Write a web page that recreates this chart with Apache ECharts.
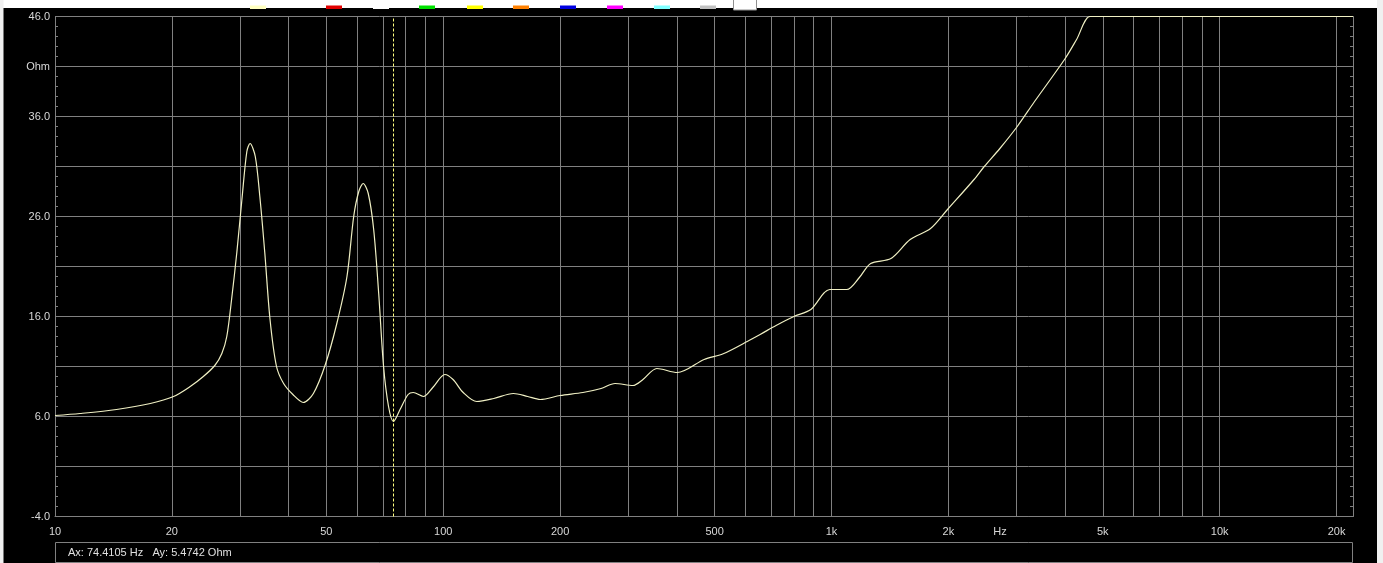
<!DOCTYPE html>
<html>
<head>
<meta charset="utf-8">
<script src="https://cdn.jsdelivr.net/npm/echarts@6/dist/echarts.min.js"></script>
<style>
html,body{margin:0;padding:0;background:#000;}
#chart{width:1383px;height:563px;}
</style>
</head>
<body>
<div id="chart"></div>
<script>
// ---- data ----
const freqHz = [10, 11.6, 14.4, 17.6, 20.2, 22.3, 24.1, 25.8, 26.9, 27.7, 28.5, 29.4, 30.3, 31.2, 31.8, 32.8, 33.7, 34.7, 35.8, 37.2, 38.8, 41, 43.6, 46.3, 49.7, 53.2, 56.5, 58.8, 60.6, 62.2, 64.1, 66.2, 68.2, 70.2, 72.3, 74.4, 77.4, 81.2, 83.7, 88.9, 94, 101, 106, 112.6, 122, 135, 151.6, 165, 177.8, 200, 229, 255, 277, 308, 327, 355, 401, 470, 528, 620, 655, 720, 800, 885, 990, 1095, 1180, 1262, 1423, 1595, 1800, 1990, 2330, 2475, 2715, 3010, 3322, 4000, 4280, 4630, 5000, 10000, 22050];
const impedanceOhm = [6.1, 6.3, 6.7, 7.3, 8.0, 9.0, 10.0, 11.1, 12.3, 14.0, 17.7, 22.4, 27.7, 32.5, 33.3, 32.0, 28.0, 22.4, 15.7, 11.0, 9.3, 8.2, 7.4, 8.3, 11.2, 15.3, 20.0, 26.0, 28.5, 29.3, 28.3, 24.7, 18.3, 11.0, 7.0, 5.5, 6.7, 8.2, 8.4, 8.0, 8.9, 10.2, 9.7, 8.4, 7.5, 7.8, 8.3, 8.0, 7.7, 8.1, 8.4, 8.8, 9.3, 9.1, 9.7, 10.8, 10.4, 11.7, 12.3, 13.7, 14.2, 15.1, 16.0, 16.7, 18.7, 18.7, 19.9, 21.3, 21.8, 23.7, 24.8, 26.7, 29.7, 31.0, 32.8, 35.0, 37.4, 41.8, 43.7, 46.0, 46.0, 46.0, 46.0];
const cursorHz = 74.4105;
const cursorOhm = 5.4742;
const xGridValues = [20,30,40,50,60,70,80,90,100,200,300,400,500,600,700,800,900,1000,2000,3000,4000,5000,6000,7000,8000,9000,10000,20000];
const xLabelValues = [10,20,50,100,200,500,1000,2000,5000,10000,20000];
const yGridValues = [-4,1,6,11,16,21,26,31,36,41,46];
const yLabelValues = [-4,6,16,26,36,41,46];
const yMinorValues = [];
for (let v = -4; v <= 46; v++) yMinorValues.push(v);
const swatchColors = ['#ffffc0','#e00000','#ffffff','#00e000','#ffff00','#ff8000','#0000e0','#ff00ff','#80ffff','#c0c0c0'];

const seriesData = freqHz.map((f, i) => [f, impedanceOhm[i]]);
const FONT = 'Liberation Sans';
const GRID = '#808080';
const LABEL = '#d8d8d8';

const chart = echarts.init(document.getElementById('chart'), null, {renderer: 'canvas'});

const graphics = [
  {type:'rect', shape:{x:0,y:0,width:1383,height:8}, style:{fill:'#ffffff'}, silent:true},
  {type:'rect', shape:{x:0,y:0,width:3.5,height:563}, style:{fill:'#f0f0f0'}, silent:true},
  {type:'rect', shape:{x:1377,y:0,width:6,height:563}, style:{fill:'#f0f0f0'}, silent:true},
  {type:'rect', shape:{x:55.5,y:542.5,width:1297,height:20}, style:{fill:'#000',stroke:GRID,lineWidth:1}, silent:true},
  {type:'text', x:68, y:552.5, style:{text:'Ax: ' + cursorHz.toFixed(4) + ' Hz   Ay: ' + cursorOhm.toFixed(4) + ' Ohm', fill:'#e0e0e0', font:'11px ' + FONT, verticalAlign:'middle'}, silent:true},
  {type:'text', x:1000, y:532, style:{text:'Hz', fill:LABEL, font:'11px ' + FONT, align:'center', verticalAlign:'middle'}, silent:true}
];
const swX = [250,326,373,419,467,513,560,607,654,700];
swatchColors.forEach((c, i) => {
  graphics.push({type:'rect', shape:{x:swX[i], y:5.5, width:16, height:3.5}, style:{fill:c}, silent:true});
});
graphics.push({type:'rect', shape:{x:733.5, y:-1, width:23, height:11}, style:{fill:'#ffffff', stroke:'#909090', lineWidth:1}, silent:true});

const option = {
  backgroundColor: '#000',
  animation: false,
  grid: {left: 55, right: 30, top: 16.5, bottom: 46.5, containLabel: false},
  xAxis: {
    type: 'log', logBase: 10, min: 10, max: 22050,
    axisLine: {show: true, onZero: false, lineStyle: {color: GRID, width: 1}},
    axisTick: {show: false, customValues: xGridValues},
    splitLine: {show: true, lineStyle: {color: GRID, width: 1}},
    minorSplitLine: {show: false},
    axisLabel: {
      customValues: xLabelValues,
      color: LABEL, fontFamily: FONT, fontSize: 11, margin: 10,
      formatter: v => v >= 1000 ? (Math.round(v) / 1000) + 'k' : String(Math.round(v))
    }
  },
  yAxis: [
    {
      type: 'value', min: -4, max: 46,
      axisLine: {show: true, onZero: false, lineStyle: {color: GRID, width: 1}},
      axisTick: {show: false, customValues: yGridValues},
      splitLine: {show: true, lineStyle: {color: GRID, width: 1}},
      axisLabel: {
        customValues: yLabelValues,
        color: LABEL, fontFamily: FONT, fontSize: 11, margin: 5,
        formatter: v => Math.round(v) === 41 ? 'Ohm' : v.toFixed(1)
      }
    },
    {
      type: 'value', min: -4, max: 46, position: 'left',
      axisLine: {show: false, onZero: false},
      axisTick: {show: true, inside: true, length: 3, customValues: yMinorValues, lineStyle: {color: GRID}},
      splitLine: {show: false},
      axisLabel: {show: false}
    },
    {
      type: 'value', min: -4, max: 46, position: 'right',
      axisLine: {show: true, onZero: false, lineStyle: {color: GRID, width: 1}},
      axisTick: {show: true, inside: true, length: 3, customValues: yMinorValues, lineStyle: {color: GRID}},
      splitLine: {show: false},
      axisLabel: {show: false}
    }
  ],
  graphic: graphics,
  series: [{
    type: 'line',
    data: seriesData,
    showSymbol: false,
    smooth: 0.3,
    clip: true,
    lineStyle: {color: '#f0f0c4', width: 1.2},
    markLine: {
      silent: true,
      symbol: ['none', 'none'],
      label: {show: false},
      lineStyle: {color: '#ffff80', type: [3, 2], width: 1},
      data: [{xAxis: cursorHz}]
    }
  }]
};
chart.setOption(option);
</script>
</body>
</html>
